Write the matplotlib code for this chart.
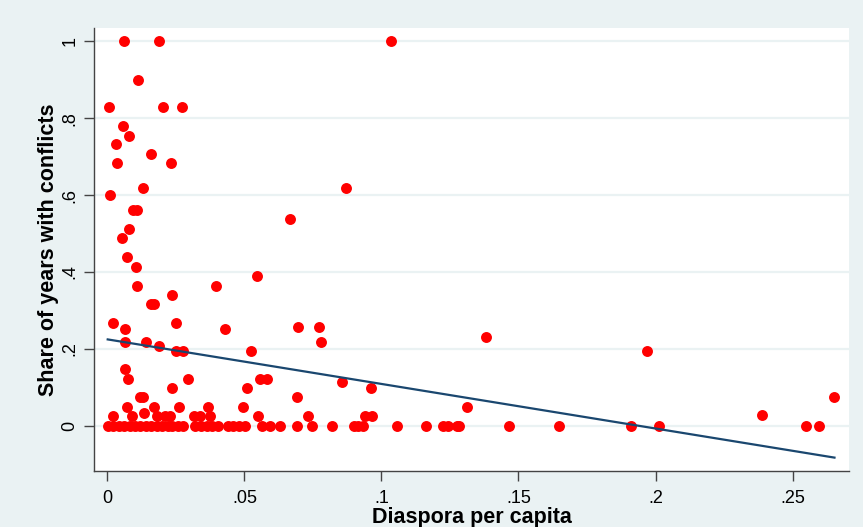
import matplotlib
matplotlib.use("Agg")
import matplotlib.pyplot as plt
import numpy as np

# diaspora per capita vs share of conflict years
diaspora = [
    # y = 0 row
    0.0001, 0.0021, 0.0042, 0.0061, 0.0082, 0.0100, 0.0119, 0.0139, 0.0159,
    0.0180, 0.0198, 0.0220, 0.0236, 0.0256, 0.0277, 0.0319, 0.0341, 0.0362,
    0.0380, 0.0402, 0.0439, 0.0459, 0.0480, 0.0502, 0.0563, 0.0593, 0.0631,
    0.0691, 0.0745, 0.0818, 0.0899, 0.0916, 0.0932, 0.1055, 0.1162, 0.1226,
    0.1244, 0.1277, 0.1284, 0.1465, 0.1648, 0.1912, 0.2014, 0.2548, 0.2596,
    # low values
    0.0021, 0.0088, 0.0180, 0.0210, 0.0228, 0.0317, 0.0338, 0.0374, 0.0551,
    0.0733, 0.0940, 0.0965, 0.2390, 0.0134,
    0.0070, 0.0171, 0.0261, 0.0368, 0.0495, 0.1312,
    0.0119, 0.0131, 0.0691, 0.2653,
    0.0234, 0.0508, 0.0961,
    0.0076, 0.0293, 0.0557, 0.0582, 0.0855,
    0.0064,
    # middle
    0.0250, 0.0277, 0.0523, 0.1968, 0.0189,
    0.0064, 0.0139, 0.0778, 0.1381,
    0.0064, 0.0428, 0.0696, 0.0772, 0.0020, 0.0249,
    0.0159, 0.0171, 0.0234, 0.0107, 0.0395, 0.0545,
    0.0105, 0.0071, 0.0054, 0.0080, 0.0666,
    # high
    0.0092, 0.0107, 0.0010, 0.0131, 0.0870,
    0.0036, 0.0233, 0.0159, 0.0031, 0.0080, 0.0058,
    0.0007, 0.0201, 0.0271, 0.0112,
    0.0060, 0.0187, 0.1035,
]
conflict_share = [
    0, 0, 0, 0, 0, 0, 0, 0, 0,
    0, 0, 0, 0, 0, 0, 0, 0, 0,
    0, 0, 0, 0, 0, 0, 0, 0, 0,
    0, 0, 0, 0, 0, 0, 0, 0, 0,
    0, 0, 0, 0, 0, 0, 0, 0, 0,
    0.025, 0.025, 0.025, 0.025, 0.025, 0.025, 0.025, 0.025, 0.025,
    0.025, 0.025, 0.025, 0.029, 0.033,
    0.049, 0.049, 0.049, 0.049, 0.049, 0.049,
    0.074, 0.074, 0.074, 0.076,
    0.098, 0.098, 0.098,
    0.121, 0.121, 0.121, 0.121, 0.115,
    0.148,
    0.195, 0.195, 0.195, 0.195, 0.208,
    0.219, 0.219, 0.219, 0.231,
    0.251, 0.251, 0.256, 0.256, 0.268, 0.268,
    0.316, 0.316, 0.340, 0.364, 0.364, 0.390,
    0.414, 0.440, 0.488, 0.511, 0.538,
    0.560, 0.560, 0.600, 0.617, 0.617,
    0.682, 0.682, 0.706, 0.732, 0.754, 0.779,
    0.829, 0.829, 0.829, 0.900,
    1.0, 1.0, 1.0,
]

# linear fit as drawn in the picture
fit_intercept = 0.225
fit_slope = -1.158

x_ticks = [0, 0.05, 0.1, 0.15, 0.2, 0.25]
x_ticklabels = ["0", ".05", ".1", ".15", ".2", ".25"]
y_ticks = [0, 0.2, 0.4, 0.6, 0.8, 1.0]
y_ticklabels = ["0", ".2", ".4", ".6", ".8", "1"]

bg = "#EAF2F3"
plt.rcParams["font.family"] = ["Liberation Sans", "DejaVu Sans"]

fig = plt.figure(figsize=(8.63, 5.27), dpi=100, facecolor=bg)
ax = fig.add_axes([94 / 863, 56 / 527, 755 / 863, 443 / 527])
ax.set_facecolor("white")

ax.set_xlim(-0.0049, 0.2706)
ax.set_ylim(-0.117, 1.034)

for yt in y_ticks:
    ax.axhline(yt, color=bg, lw=1.6, zorder=0)

ax.scatter(diaspora, conflict_share, s=62, color="#FF0000", linewidths=0, zorder=3)

fx = np.array([min(diaspora), max(diaspora)])
ax.plot(fx, fit_intercept + fit_slope * fx, color="#1A476F", lw=1.6, zorder=4)

for side in ["top", "right"]:
    ax.spines[side].set_visible(False)
for side in ["left", "bottom"]:
    ax.spines[side].set_color("#444444")
    ax.spines[side].set_linewidth(1.0)

ax.set_xticks(x_ticks)
ax.set_xticklabels(x_ticklabels, fontsize=13)
ax.set_yticks(y_ticks)
ax.set_yticklabels(y_ticklabels, fontsize=13, rotation=90, va="center")
ax.tick_params(axis="both", length=7, width=1.0, color="#444444", pad=4)
ax.tick_params(axis="x", pad=6.5)

ax.set_xlabel("Diaspora per capita", fontsize=15.5, fontweight="bold", labelpad=0.5)
ax.set_ylabel("Share of years with conflicts", fontsize=15.5, fontweight="bold", labelpad=2)

fig.savefig("out.png", dpi=100, facecolor=bg)
